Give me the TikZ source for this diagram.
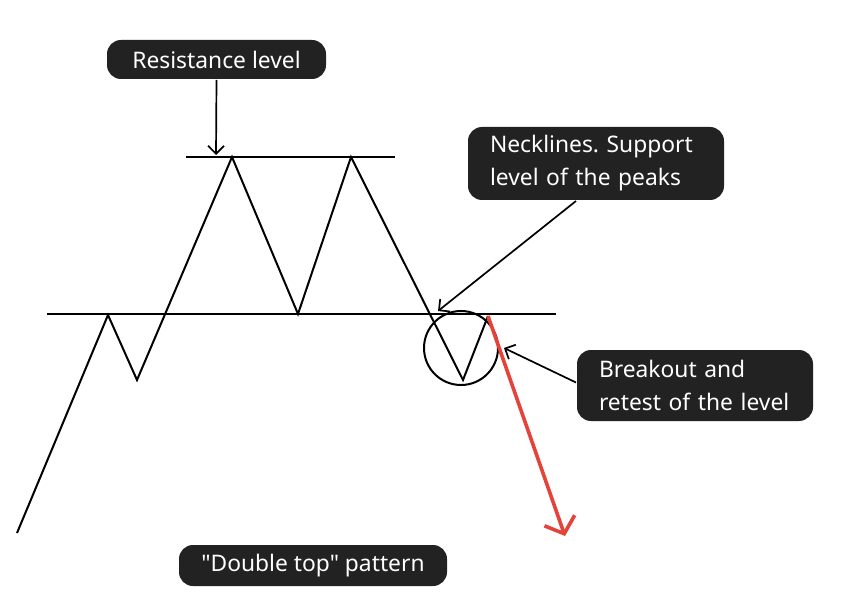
\documentclass[tikz,border=0pt]{standalone}
\usepackage{fontspec}
\setmainfont{Noto Sans}[Ligatures=TeXOff]
\frenchspacing
\usetikzlibrary{arrows.meta}
\definecolor{boxfill}{HTML}{222222}
\definecolor{redarrow}{HTML}{E5423A}
\begin{document}
\begin{tikzpicture}[x=1pt,y=-1pt,line width=2pt,line join=miter,
  labelbox/.style={fill=boxfill,text=white,rounded corners=14pt,font=\fontsize{22.8}{33}\selectfont,inner ysep=0pt,inner xsep=22pt,align=left},
  blackarrow/.style={-{Straight Barb[length=8pt,width=16pt,line width=1.7pt]},line width=1.7pt},
  redarr/.style={draw=redarrow,line width=3.6pt,-{Straight Barb[length=14pt,width=32pt,line width=3.6pt]}}]
\useasboundingbox (0,0) rectangle (852,604);
% zigzag points
\coordinate (p0) at (17,533);
\coordinate (p1) at (108,315);
\coordinate (p2) at (137,380);
\coordinate (p3) at (232,157);
\coordinate (p4) at (298,314);
\coordinate (p5) at (351,157);
\coordinate (p6) at (463,380);
\coordinate (p7) at (488,316);
\coordinate (rt) at (565,536);
% levels
\coordinate (rl) at (186,157);
\coordinate (rr) at (395,157);
\coordinate (nl) at (47,314);
\coordinate (nr) at (556,314);
\draw (rl) -- (rr);
\draw (nl) -- (nr);
\draw (p0) -- (p1) -- (p2) -- (p3) -- (p4) -- (p5) -- (p6) -- (p7);
\node[draw,circle,line width=2pt,minimum size=74pt,inner sep=0pt] (circ) at (461,348) {};
\draw[redarr] (p7) -- (rt);
% labels
\node[labelbox,minimum width=219pt,minimum height=39pt,align=center,inner xsep=0pt] (res) at (216.5,59.5) {Resistance level};
\node[labelbox,text width=212pt,minimum height=73pt] (neck) at (596,163.5) {Necklines. Support\\level of the peaks};
\node[labelbox,text width=192pt,minimum height=71pt] (brk) at (695,385.5) {Breakout and\\retest of the level};
\node[labelbox,minimum width=268pt,minimum height=41pt,align=center,inner xsep=0pt] (dt) at (313,565.5) {"Double top" pattern};
% arrows
\coordinate (resTip) at (216,155);
\coordinate (neckTip) at (438,311);
\coordinate (brkTip) at (504,348);
\draw[blackarrow] (res.south) -- (resTip);
\draw[blackarrow] (neck.south) ++(-20,0) -- (neckTip);
\draw[blackarrow] (brk.west) ++(0,-3) -- (brkTip);
\end{tikzpicture}
\end{document}
